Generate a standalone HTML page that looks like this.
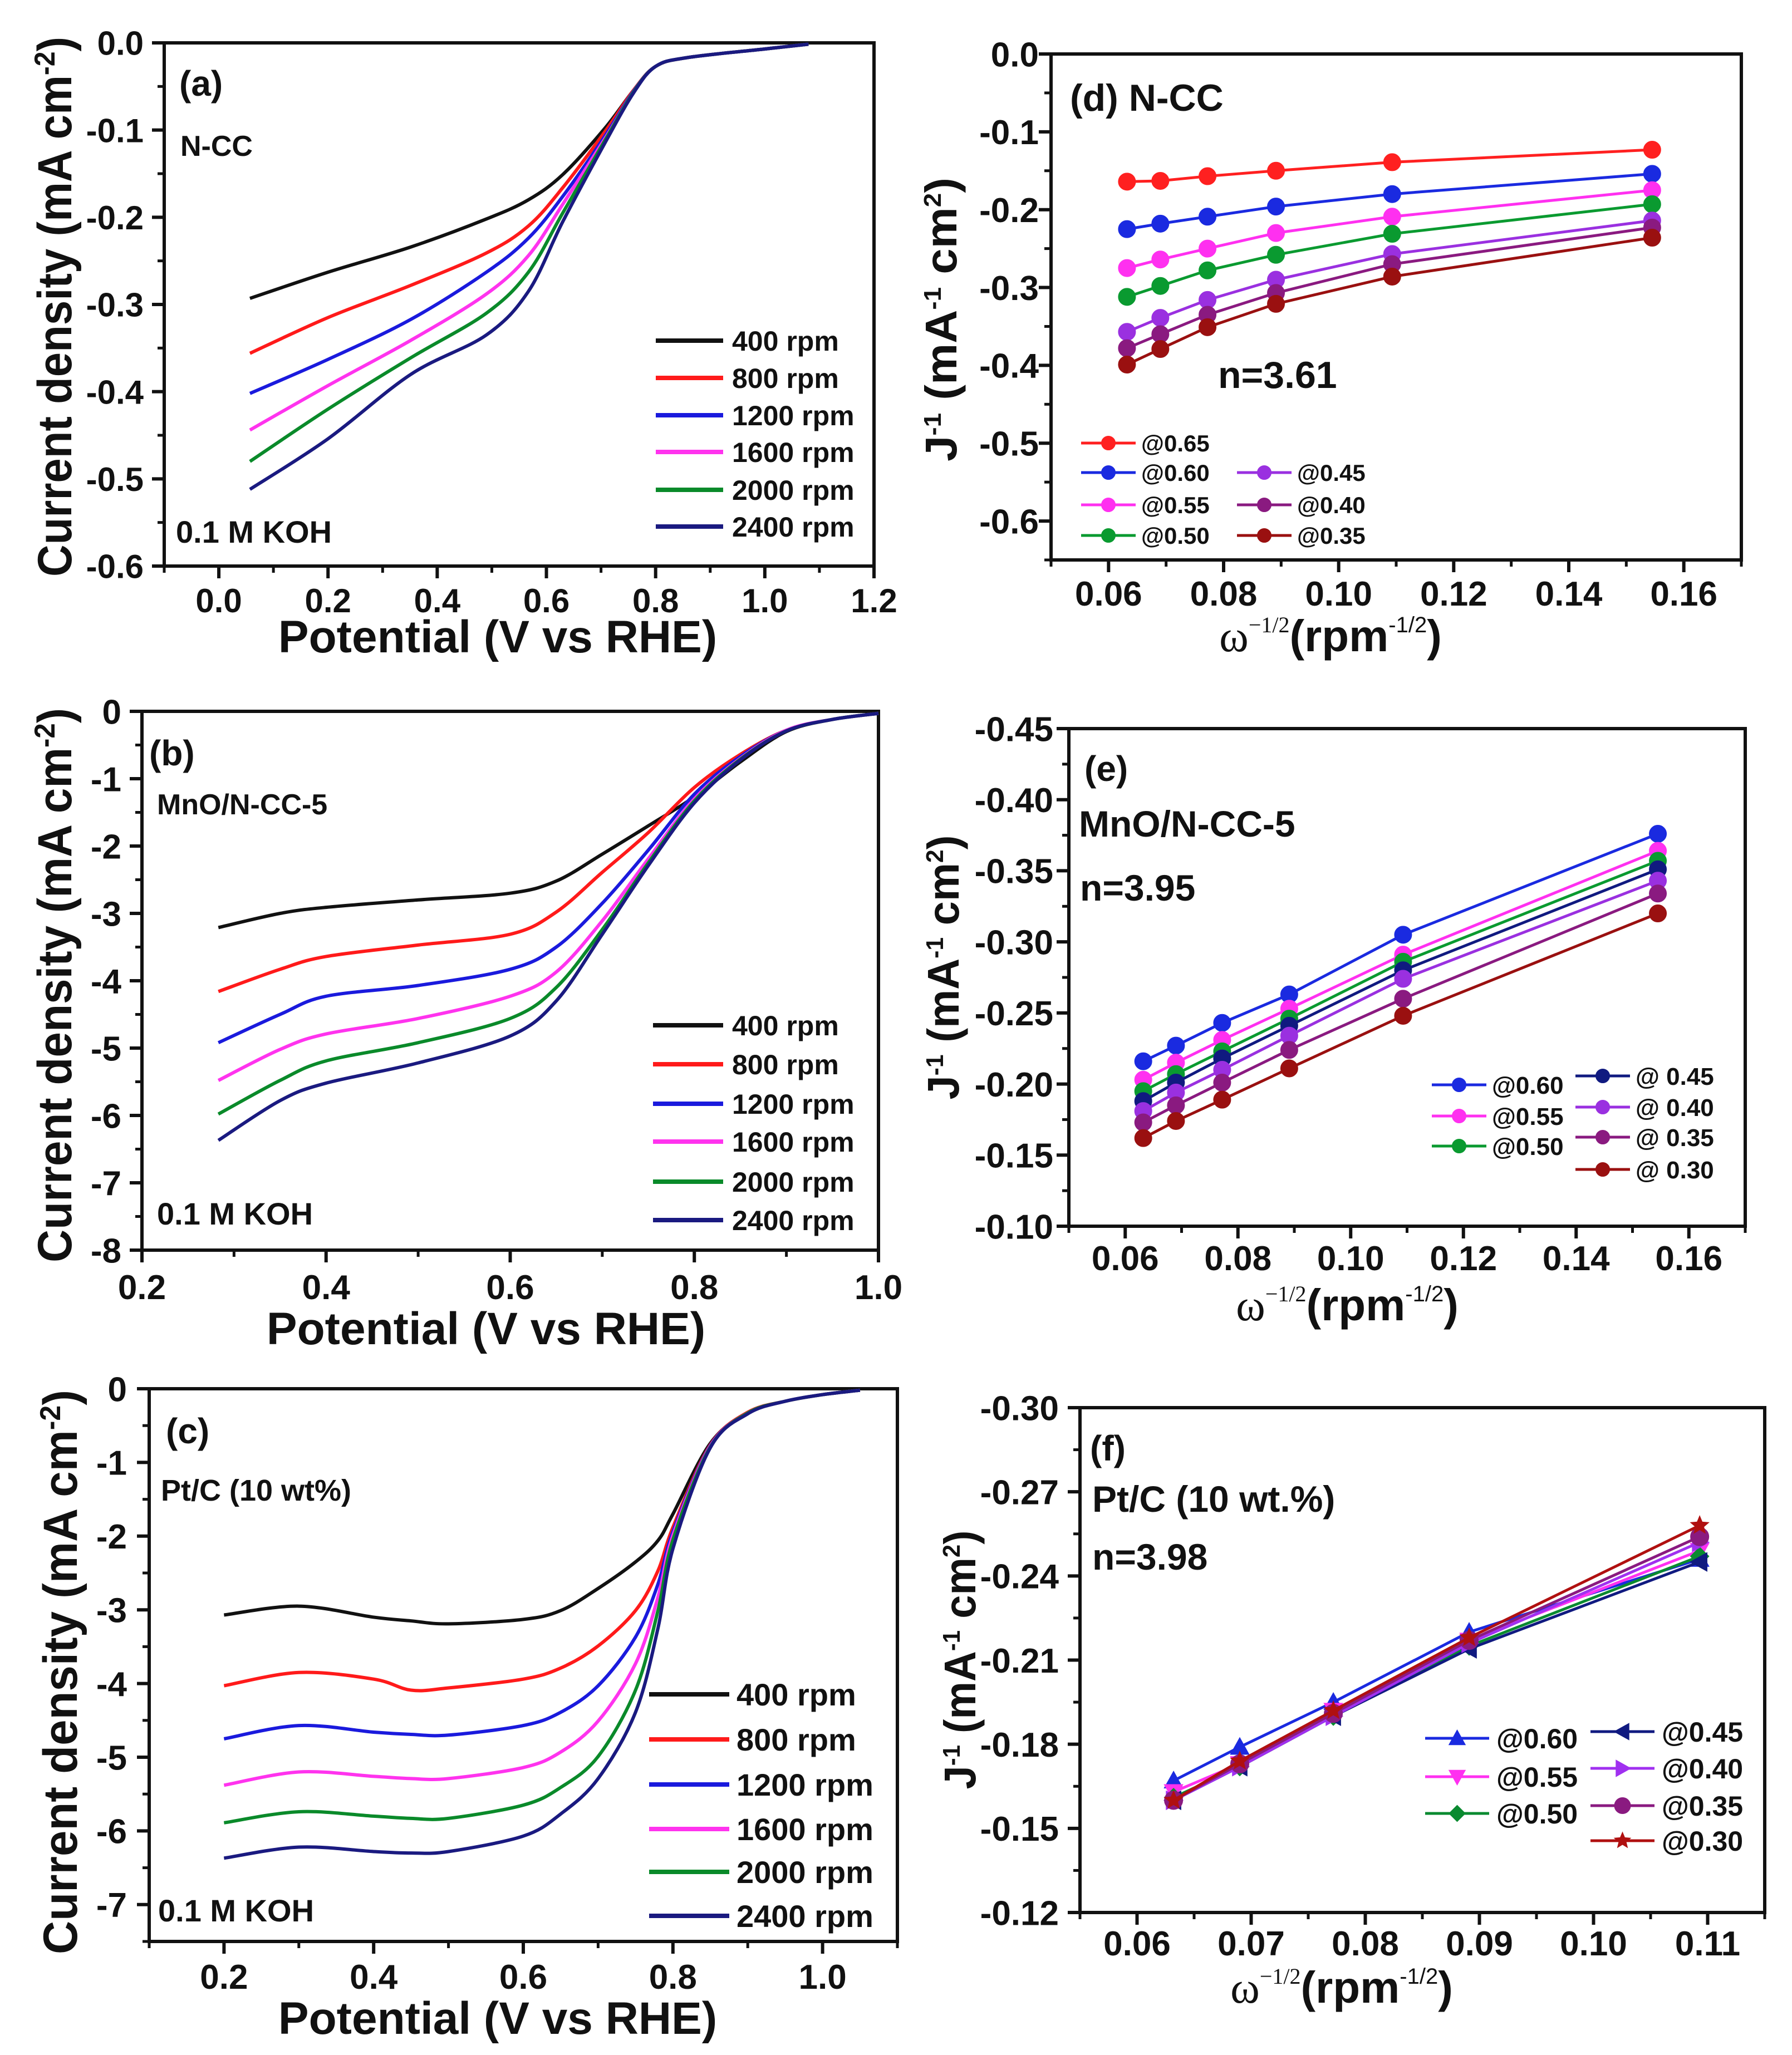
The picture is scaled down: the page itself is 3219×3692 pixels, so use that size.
<!DOCTYPE html>
<html><head><meta charset="utf-8"><style>
html,body{margin:0;padding:0;background:#fff;}
svg{display:block;font-family:"Liberation Sans",Arial,sans-serif;font-weight:bold;}
</style></head><body>
<svg id="fig" xmlns="http://www.w3.org/2000/svg" width="3219" height="3692" viewBox="0 0 3219 3692"></svg>
<script>
// ---------- Panel (a) N-CC LSV ----------
const aX = [0.057,0.2,0.352,0.49,0.567,0.63,0.707,0.76,0.8,0.857,1.0,1.08];
const a400 = [-0.293,-0.263,-0.234,-0.202,-0.18,-0.151,-0.098,-0.054,-0.027,-0.017,-0.007,-0.0015];
const a800 = [-0.356,-0.315,-0.278,-0.241,-0.21,-0.166,-0.102,-0.054,-0.027,-0.017,-0.007,-0.0015];
const a1200 = [-0.402,-0.363,-0.317,-0.263,-0.224,-0.176,-0.107,-0.055,-0.027,-0.017,-0.007,-0.0015];
const a1600 = [-0.444,-0.393,-0.341,-0.288,-0.244,-0.185,-0.11,-0.056,-0.027,-0.017,-0.007,-0.0015];
const a2000 = [-0.48,-0.42,-0.361,-0.31,-0.263,-0.195,-0.112,-0.056,-0.027,-0.017,-0.007,-0.0015];
const a2400 = [-0.512,-0.454,-0.38,-0.335,-0.285,-0.205,-0.115,-0.057,-0.027,-0.017,-0.007,-0.0015];
// ---------- Panel (b) MnO/N-CC-5 LSV ----------
const bX = [0.283,0.35,0.4,0.5,0.6,0.65,0.7,0.75,0.8,0.85,0.9,0.95,1.0];
const b400 = [-3.21,-3.0,-2.91,-2.8,-2.7,-2.52,-2.12,-1.7,-1.27,-0.75,-0.3,-0.12,-0.03];
const b800 = [-4.16,-3.83,-3.64,-3.47,-3.31,-2.98,-2.39,-1.8,-1.13,-0.64,-0.28,-0.12,-0.03];
const b1200 = [-4.92,-4.5,-4.23,-4.07,-3.83,-3.5,-2.85,-2.06,-1.23,-0.67,-0.28,-0.12,-0.03];
const b1600 = [-5.48,-5.02,-4.79,-4.56,-4.23,-3.87,-3.11,-2.19,-1.3,-0.7,-0.28,-0.12,-0.03];
const b2000 = [-5.98,-5.48,-5.19,-4.92,-4.56,-4.1,-3.24,-2.25,-1.33,-0.71,-0.29,-0.12,-0.03];
const b2400 = [-6.37,-5.78,-5.52,-5.22,-4.82,-4.3,-3.31,-2.29,-1.36,-0.72,-0.29,-0.12,-0.03];
// ---------- Panel (c) Pt/C LSV ----------
const cX = [0.2,0.3,0.4,0.45,0.5,0.6,0.65,0.7,0.75,0.78,0.8,0.85,0.9,0.95,1.0,1.05];
const c400 = [-3.07,-2.95,-3.1,-3.15,-3.19,-3.13,-3.01,-2.71,-2.35,-2.06,-1.7,-0.74,-0.32,-0.17,-0.08,-0.02];
const c800 = [-4.03,-3.85,-3.94,-4.09,-4.06,-3.94,-3.79,-3.49,-3.01,-2.47,-1.88,-0.76,-0.32,-0.17,-0.08,-0.02];
const c1200 = [-4.75,-4.57,-4.66,-4.69,-4.7,-4.57,-4.39,-4.03,-3.37,-2.65,-1.94,-0.77,-0.33,-0.17,-0.08,-0.02];
const c1600 = [-5.38,-5.2,-5.26,-5.29,-5.29,-5.14,-4.93,-4.51,-3.73,-2.83,-1.99,-0.78,-0.33,-0.17,-0.08,-0.02];
const c2000 = [-5.89,-5.74,-5.8,-5.83,-5.83,-5.65,-5.41,-4.99,-4.09,-3.01,-2.05,-0.79,-0.33,-0.17,-0.08,-0.02];
const c2400 = [-6.37,-6.22,-6.28,-6.3,-6.28,-6.07,-5.77,-5.29,-4.39,-3.25,-2.17,-0.8,-0.34,-0.17,-0.08,-0.02];
// ---------- Panel (d) N-CC K-L ----------
const dX = [0.0632,0.0690,0.0772,0.0891,0.1093,0.1545];
const d065 = [-0.164,-0.163,-0.157,-0.150,-0.139,-0.123];
const d060 = [-0.225,-0.218,-0.209,-0.196,-0.180,-0.154];
const d055 = [-0.275,-0.264,-0.250,-0.230,-0.209,-0.175];
const d050 = [-0.312,-0.298,-0.278,-0.258,-0.231,-0.193];
const d045 = [-0.357,-0.339,-0.316,-0.290,-0.257,-0.214];
const d040 = [-0.378,-0.360,-0.335,-0.307,-0.270,-0.223];
const d035 = [-0.399,-0.379,-0.351,-0.321,-0.286,-0.236];
// ---------- Panel (e) MnO/N-CC-5 K-L ----------
const eX = [0.0632,0.0690,0.0772,0.0891,0.1093,0.1545];
const e060 = [-0.216,-0.227,-0.243,-0.263,-0.305,-0.376];
const e055 = [-0.203,-0.215,-0.231,-0.253,-0.291,-0.364];
const e050 = [-0.195,-0.207,-0.223,-0.246,-0.286,-0.357];
const e045 = [-0.188,-0.201,-0.218,-0.241,-0.280,-0.351];
const e040 = [-0.181,-0.194,-0.210,-0.234,-0.274,-0.343];
const e035 = [-0.173,-0.185,-0.201,-0.224,-0.260,-0.334];
const e030 = [-0.162,-0.174,-0.189,-0.211,-0.248,-0.320];
// ---------- Panel (f) Pt/C K-L ----------
const fX = [0.0632,0.0690,0.0772,0.0891,0.1093];
const f060 = [-0.167,-0.179,-0.195,-0.220,-0.246];
const f055 = [-0.163,-0.173,-0.192,-0.217,-0.249];
const f050 = [-0.161,-0.172,-0.190,-0.215,-0.247];
const f045 = [-0.160,-0.172,-0.190,-0.214,-0.245];
const f040 = [-0.160,-0.172,-0.190,-0.216,-0.252];
const f035 = [-0.160,-0.173,-0.191,-0.217,-0.254];
const f030 = [-0.160,-0.174,-0.192,-0.218,-0.258];
// ---------- tick arrays ----------
const aXTicks = [0.0,0.2,0.4,0.6,0.8,1.0,1.2];
const aYTicks = [0.0,-0.1,-0.2,-0.3,-0.4,-0.5,-0.6];
const bXTicks = [0.2,0.4,0.6,0.8,1.0];
const bYTicks = [0,-1,-2,-3,-4,-5,-6,-7,-8];
const cXTicks = [0.2,0.4,0.6,0.8,1.0];
const cYTicks = [0,-1,-2,-3,-4,-5,-6,-7];
const dXTicks = [0.06,0.08,0.10,0.12,0.14,0.16];
const dYTicks = [0.0,-0.1,-0.2,-0.3,-0.4,-0.5,-0.6];
const eXTicks = [0.06,0.08,0.10,0.12,0.14,0.16];
const eYTicks = [-0.45,-0.40,-0.35,-0.30,-0.25,-0.20,-0.15,-0.10];
const fXTicks = [0.06,0.07,0.08,0.09,0.10,0.11];
const fYTicks = [-0.30,-0.27,-0.24,-0.21,-0.18,-0.15,-0.12];
const rpmLabels = ["400 rpm","800 rpm","1200 rpm","1600 rpm","2000 rpm","2400 rpm"];

const NS="http://www.w3.org/2000/svg";
const svg=document.getElementById('fig');
function mk(tag,parent){const e=document.createElementNS(NS,tag);(parent||svg).appendChild(e);return e;}
function txt(parent,x,y,s,size,anchor){const t=mk('text',parent);t.setAttribute('x',x);t.setAttribute('y',y);t.setAttribute('font-size',size);t.setAttribute('text-anchor',anchor||'start');t.setAttribute('fill','#111');t.textContent=s;return t;}

function makeAxes(p){
  const g=mk('g');
  
  
  p.sx=v=>p.x0+(v-p.xmin)/(p.xmax-p.xmin)*(p.x1-p.x0);
  p.sy=v=>p.y1-(v-p.ymin)/(p.ymax-p.ymin)*(p.y1-p.y0);
  const fr=mk('rect',g);
  
  
  fr.setAttribute('x',p.x0);fr.setAttribute('y',p.y0);fr.setAttribute('width',p.x1-p.x0);fr.setAttribute('height',p.y1-p.y0);
  fr.setAttribute('fill','none');fr.setAttribute('stroke','#111');fr.setAttribute('stroke-width',6);
  for(let v=p.xminor0;v<=p.xmax+1e-9;v+=p.xminor){
    const X=p.sx(v); if(X<p.x0-1||X>p.x1+1)continue;
    const t=mk('line',g);t.setAttribute('x1',X);t.setAttribute('x2',X);t.setAttribute('y1',p.y1);t.setAttribute('y2',p.y1+12);t.setAttribute('stroke','#111');t.setAttribute('stroke-width',5);
  }
  const ylo=Math.min(p.ymin,p.ymax),yhi=Math.max(p.ymin,p.ymax);
  for(let v=ylo;v<=yhi+1e-9;v+=p.yminor){
    const Y=p.sy(v);
    const t=mk('line',g);t.setAttribute('x1',p.x0-12);t.setAttribute('x2',p.x0);t.setAttribute('y1',Y);t.setAttribute('y2',Y);t.setAttribute('stroke','#111');t.setAttribute('stroke-width',5);
  }
  p.xticks.forEach(v=>{
    const X=p.sx(v);
    const t=mk('line',g);t.setAttribute('x1',X);t.setAttribute('x2',X);t.setAttribute('y1',p.y1);t.setAttribute('y2',p.y1+22);t.setAttribute('stroke','#111');t.setAttribute('stroke-width',6);
    const l=txt(g,X,p.xlabY,v.toFixed(p.xdec),p.tfs,'middle');
    
    
  });
  p.yticks.forEach(v=>{
    const Y=p.sy(v);
    const t=mk('line',g);t.setAttribute('x1',p.x0-22);t.setAttribute('x2',p.x0);t.setAttribute('y1',Y);t.setAttribute('y2',Y);t.setAttribute('stroke','#111');t.setAttribute('stroke-width',6);
    const s=(v===0&&p.ydec===0)?'0':v.toFixed(p.ydec);
    const l=txt(g,p.ylabX,Y+p.tfs*0.36,s,p.tfs,'end');
    
    
  });
  return g;
}
function xTitle(g,x,y,lsv,fs){
  const t=mk('text',g);
  
  
  t.setAttribute('x',x);t.setAttribute('y',y);t.setAttribute('text-anchor','middle');t.setAttribute('font-size',fs);t.setAttribute('fill','#111');
  if(lsv){t.textContent='Potential (V vs RHE)';}
  else{t.innerHTML='<tspan font-family="Liberation Serif,serif" font-weight="normal">ω</tspan><tspan dy="-34" font-size="40" font-family="Liberation Serif,serif" font-weight="normal">−1/2</tspan><tspan dy="34">(rpm</tspan><tspan dy="-34" font-size="40" font-weight="normal">-1/2</tspan><tspan dy="34">)</tspan>';}
}
function yTitle(g,x,cy,lsv,fs,len){
  const t=mk('text',g);
  
  
  t.setAttribute('transform','translate('+x+','+cy+') rotate(-90)');
  t.setAttribute('text-anchor','middle');t.setAttribute('font-size',fs);t.setAttribute('fill','#111');
  if(lsv){t.innerHTML='Current density (mA cm<tspan dy="-30" font-size="'+(fs*0.6)+'">-2</tspan><tspan dy="30">)</tspan>';}
  else{t.innerHTML='J<tspan dy="-28" font-size="'+(fs*0.55)+'">-1</tspan><tspan dy="28"> (mA</tspan><tspan dy="-28" font-size="'+(fs*0.55)+'">-1</tspan><tspan dy="28"> cm</tspan><tspan dy="-28" font-size="'+(fs*0.55)+'">2</tspan><tspan dy="28">)</tspan>';}
  t.setAttribute('textLength',len);t.setAttribute('lengthAdjust','spacingAndGlyphs');
}
function smoothPath(P){
  let d='M'+P[0][0]+','+P[0][1];
  for(let i=0;i<P.length-1;i++){
    const p0=P[Math.max(0,i-1)],p1=P[i],p2=P[i+1],p3=P[Math.min(P.length-1,i+2)];
    const c1=[p1[0]+(p2[0]-p0[0])/6,p1[1]+(p2[1]-p0[1])/6];
    const c2=[p2[0]-(p3[0]-p1[0])/6,p2[1]-(p3[1]-p1[1])/6];
    d+=' C'+c1[0]+','+c1[1]+' '+c2[0]+','+c2[1]+' '+p2[0]+','+p2[1];
  }
  return d;
}
function curve(g,p,xs,ys,color,w,smooth){
  const P=xs.map((x,i)=>[p.sx(x),p.sy(ys[i])]);
  let pl;
  if(smooth){pl=mk('path',g);pl.setAttribute('d',smoothPath(P));}
  else{pl=mk('polyline',g);pl.setAttribute('points',P.map(q=>q[0]+','+q[1]).join(' '));}
  
  
  pl.setAttribute('fill','none');pl.setAttribute('stroke',color);pl.setAttribute('stroke-width',w||6);pl.setAttribute('stroke-linejoin','round');
  return pl;
}
function marker(g,X,Y,shape,color,r){
  let m;
  if(shape==='c'){m=mk('circle',g);m.setAttribute('cx',X);m.setAttribute('cy',Y);m.setAttribute('r',r);}
  else{
    let pts;
    if(shape==='up')pts=[[0,-r],[r,r*0.8],[-r,r*0.8]];
    else if(shape==='down')pts=[[0,r],[r,-r*0.8],[-r,-r*0.8]];
    else if(shape==='left')pts=[[-r,0],[r*0.8,-r],[r*0.8,r]];
    else if(shape==='right')pts=[[r,0],[-r*0.8,-r],[-r*0.8,r]];
    else if(shape==='dia')pts=[[0,-r],[r,0],[0,r],[-r,0]];
    else {pts=[];for(let k=0;k<10;k++){const a=-Math.PI/2+k*Math.PI/5;const rr=k%2?r*0.45:r;pts.push([rr*Math.cos(a),rr*Math.sin(a)]);}}
    m=mk('polygon',g);m.setAttribute('points',pts.map(q=>(X+q[0])+','+(Y+q[1])).join(' '));
  }
  m.setAttribute('fill',color);m.setAttribute('stroke',color);m.setAttribute('stroke-width',2);
  
  
}
function series(g,p,xs,ys,color,shape,r){
  curve(g,p,xs,ys,color,5,false);
  xs.forEach((x,i)=>marker(g,p.sx(x),p.sy(ys[i]),shape,color,r));
}
function legendEntry(g,x1,x2,y,tx,label,color,fs,shape,r){
  const e=mk('g',g);
  
  
  const l=mk('line',e);l.setAttribute('x1',x1);l.setAttribute('x2',x2);l.setAttribute('y1',y);l.setAttribute('y2',y);l.setAttribute('stroke',color);l.setAttribute('stroke-width',shape?5:8);
  if(shape)marker(e,(x1+x2)/2,y,shape,color,r);
  txt(e,tx,y+fs*0.36,label,fs,'start');
}
function note(g,x,y,s,fs,name){const t=txt(g,x,y,s,fs,'start');return t;}

const lsvColors=['#111111','#ff1a1a','#1a1add','#ff33ee','#0a8a2a','#1a1a80'];
// ----- Panel a -----
const pa={id:'a',x0:295,x1:1570,y0:77,y1:1017,xmin:-0.1,xmax:1.2,ymin:-0.6,ymax:0,xticks:aXTicks,yticks:aYTicks,xdec:1,ydec:1,xminor0:-0.1,xminor:0.1,yminor:0.05,xlabY:1100,ylabX:258,tfs:60};
let g=makeAxes(pa);
[a400,a800,a1200,a1600,a2000,a2400].forEach((ys,i)=>curve(g,pa,aX,ys,lsvColors[i],6,true));
rpmLabels.forEach((s,i)=>legendEntry(g,1178,1299,[612,679,746,812,880,946][i],1315,s,lsvColors[i],50));
note(g,322,172,'(a)',64,'panel-label');
note(g,324,280,'N-CC',52,'sample-label');
note(g,316,975,'0.1 M KOH',56,'electrolyte-label');
xTitle(g,894,1172,true,82);
yTitle(g,128,551,true,86,970);
// ----- Panel b -----
const pb={id:'b',x0:255,x1:1578,y0:1278,y1:2246,xmin:0.2,xmax:1.0,ymin:-8,ymax:0,xticks:bXTicks,yticks:bYTicks,xdec:1,ydec:0,xminor0:0.2,xminor:0.1,yminor:0.5,xlabY:2334,ylabX:218,tfs:62};
g=makeAxes(pb);
[b400,b800,b1200,b1600,b2000,b2400].forEach((ys,i)=>curve(g,pb,bX,ys,lsvColors[i],6,true));
rpmLabels.forEach((s,i)=>legendEntry(g,1173,1299,[1842,1912,1983,2051,2123,2192][i],1315,s,lsvColors[i],50));
note(g,268,1375,'(b)',64,'panel-label');
note(g,282,1463,'MnO/N-CC-5',52,'sample-label');
note(g,282,2200,'0.1 M KOH',56,'electrolyte-label');
xTitle(g,873,2415,true,82);
yTitle(g,128,1770,true,86,996);
// ----- Panel c -----
const pc={id:'c',x0:268,x1:1612,y0:2495,y1:3488,xmin:0.1,xmax:1.1,ymin:-7.5,ymax:0,xticks:cXTicks,yticks:cYTicks,xdec:1,ydec:0,xminor0:0.1,xminor:0.1,yminor:0.5,xlabY:3573,ylabX:228,tfs:62};
g=makeAxes(pc);
[c400,c800,c1200,c1600,c2000,c2400].forEach((ys,i)=>curve(g,pc,cX,ys,lsvColors[i],6,true));
rpmLabels.forEach((s,i)=>legendEntry(g,1166,1310,[3044,3125,3206,3286,3363,3442][i],1323,s,lsvColors[i],56));
note(g,298,2593,'(c)',64,'panel-label');
note(g,289,2696,'Pt/C (10 wt%)',54,'sample-label');
note(g,284,3452,'0.1 M KOH',56,'electrolyte-label');
xTitle(g,894,3654,true,82);
yTitle(g,138,3004,true,86,1014);
// ----- Panel d -----
const pd={id:'d',x0:1888,x1:3128,y0:97,y1:1006,xmin:0.05,xmax:0.17,ymin:-0.65,ymax:0,xticks:dXTicks,yticks:dYTicks,xdec:2,ydec:1,xminor0:0.05,xminor:0.01,yminor:0.05,xlabY:1088,ylabX:1866,tfs:62};
g=makeAxes(pd);
const dCols=['#ff2020','#1a2ae0','#ff30f0','#0a9a30','#9a30e0','#8a1a80','#9a1010'];
[d065,d060,d055,d050,d045,d040,d035].forEach((ys,i)=>series(g,pd,dX,ys,dCols[i],'c',15));
const dLeg=[['@0.65',1942,796],['@0.60',1942,849],['@0.55',1942,907],['@0.50',1942,962],['@0.45',2222,849],['@0.40',2222,907],['@0.35',2222,962]];
dLeg.forEach((L,i)=>legendEntry(g,L[1],L[1]+98,L[2],L[1]+108,L[0],dCols[i],42,'c',12));
note(g,1922,199,'(d)  N-CC',68,'panel-label');
note(g,2188,697,'n=3.61',68,'electron-number');
xTitle(g,2390,1170,false,80);
yTitle(g,1718,574,false,80,510);
// ----- Panel e -----
const pe={id:'e',x0:1920,x1:3135,y0:1309,y1:2203,xmin:0.05,xmax:0.17,ymin:-0.10,ymax:-0.45,xticks:eXTicks,yticks:eYTicks,xdec:2,ydec:2,xminor0:0.05,xminor:0.01,yminor:0.025,xlabY:2282,ylabX:1892,tfs:62};
g=makeAxes(pe);
const eCols=['#1a2ae0','#ff30f0','#0a9a30','#101a80','#9a30e0','#8a1a80','#9a1010'];
[e060,e055,e050,e045,e040,e035,e030].forEach((ys,i)=>series(g,pe,eX,ys,eCols[i],'c',15));
const eLeg=[['@0.60',2572,1949],['@0.55',2572,2005],['@0.50',2572,2059],['@ 0.45',2830,1933],['@ 0.40',2830,1989],['@ 0.35',2830,2043],['@ 0.30',2830,2101]];
eLeg.forEach((L,i)=>legendEntry(g,L[1],L[1]+98,L[2],L[1]+108,L[0],eCols[i],44,'c',12));
note(g,1948,1403,'(e)',64,'panel-label');
note(g,1938,1503,'MnO/N-CC-5',66,'sample-label');
note(g,1940,1618,'n=3.95',66,'electron-number');
xTitle(g,2420,2372,false,80);
yTitle(g,1722,1738,false,80,475);
// ----- Panel f -----
const pf={id:'f',x0:1940,x1:3170,y0:2529,y1:3436,xmin:0.055,xmax:0.115,ymin:-0.12,ymax:-0.30,xticks:fXTicks,yticks:fYTicks,xdec:2,ydec:2,xminor0:0.055,xminor:0.005,yminor:0.015,xlabY:3513,ylabX:1902,tfs:62};
g=makeAxes(pf);
const fCols=['#1a2ae0','#ff30f0','#0a8a30','#101a80','#a030f0','#8a1a80','#b01010'];
const fShapes=['up','down','dia','left','right','c','star'];
[f060,f055,f050,f045,f040,f035,f030].forEach((ys,i)=>series(g,pf,fX,ys,fCols[i],fShapes[i],16));
const fLeg=[['@0.60',2560,3123],['@0.55',2560,3192],['@0.50',2560,3258],['@0.45',2857,3111],['@0.40',2857,3177],['@0.35',2857,3244],['@0.30',2857,3307]];
fLeg.forEach((L,i)=>legendEntry(g,L[1],L[1]+115,L[2],L[1]+128,L[0],fCols[i],50,fShapes[i],14));
note(g,1958,2624,'(f)',64,'panel-label');
note(g,1962,2716,'Pt/C (10 wt.%)',66,'sample-label');
note(g,1962,2820,'n=3.98',66,'electron-number');
xTitle(g,2410,3598,false,80);
yTitle(g,1752,2982,false,80,465);
</script>
</body></html>
